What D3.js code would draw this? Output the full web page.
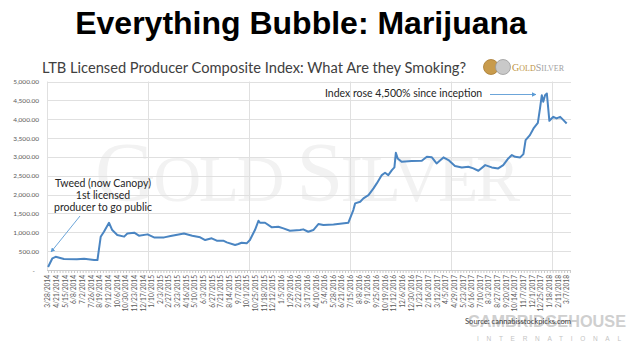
<!DOCTYPE html>
<html>
<head>
<meta charset="utf-8">
<script src="https://cdn.jsdelivr.net/npm/d3@7"></script>
<style>
  body { margin: 0; background: #fff; }
  svg { display: block; }
</style>
</head>
<body>
<div class="canvas"></div>
<script>
// index readings
const dates = [
  '3/28/2014', '4/9/2014', '4/18/2014', '5/11/2014', '6/16/2014', '7/6/2014', '8/3/2014', '8/12/2014',
  '8/21/2014', '8/30/2014', '9/13/2014', '9/22/2014', '10/6/2014', '10/25/2014', '11/3/2014', '11/22/2014',
  '12/5/2014', '12/29/2014', '1/16/2015', '2/13/2015', '3/3/2015', '4/9/2015', '5/2/2015', '5/24/2015',
  '6/7/2015', '6/25/2015', '7/9/2015', '7/27/2015', '8/6/2015', '8/29/2015', '9/7/2015', '9/16/2015',
  '9/30/2015', '10/9/2015', '10/23/2015', '11/2/2015', '11/6/2015', '11/20/2015', '12/9/2015', '12/27/2015',
  '1/10/2016', '1/28/2016', '2/25/2016', '3/5/2016', '3/19/2016', '4/2/2016', '4/16/2016', '4/30/2016',
  '5/28/2016', '6/15/2016', '7/8/2016', '7/22/2016', '7/27/2016', '8/10/2016', '8/19/2016', '9/2/2016',
  '9/16/2016', '9/25/2016', '10/9/2016', '10/18/2016', '10/27/2016', '11/6/2016', '11/13/2016', '11/17/2016',
  '11/22/2016', '12/3/2016', '12/31/2016', '1/28/2017', '2/11/2017', '2/25/2017', '3/10/2017', '3/29/2017',
  '4/12/2017', '4/30/2017', '5/19/2017', '6/6/2017', '6/20/2017', '7/4/2017', '7/23/2017', '8/10/2017',
  '8/28/2017', '9/11/2017', '9/25/2017', '10/5/2017', '10/14/2017', '10/28/2017', '11/6/2017', '11/12/2017',
  '11/24/2017', '12/4/2017', '12/16/2017', '12/22/2017', '12/27/2017', '12/31/2017', '1/5/2018', '1/10/2018',
  '1/17/2018', '1/28/2018', '2/6/2018', '2/16/2018', '2/25/2018', '3/6/2018'
];
const values = [
  80, 310, 350, 290, 283, 300, 265, 265,
  880, 1015, 1253, 1060, 930, 885, 970, 990,
  910, 945, 865, 865, 900, 970, 910, 866,
  795, 840, 777, 777, 734, 662, 690, 724,
  707, 795, 1060, 1307, 1253, 1253, 1131, 1148,
  1104, 1042, 1060, 1078, 1015, 1060, 1219, 1192,
  1210, 1228, 1253, 1590, 1767, 1810, 1900, 1988,
  2165, 2297, 2518, 2579, 2518, 2650, 2721, 3109,
  2960, 2870, 2889, 2897, 3003, 2990, 2827, 2987,
  2915, 2760, 2721, 2738, 2695, 2632, 2782, 2721,
  2695, 2782, 2960, 3048, 3003, 2987, 3074, 3445,
  3578, 3755, 3904, 4285, 4638, 4460, 4638, 4682,
  3957, 4063, 4020, 4063, 3975, 3888
];

// category labels along the bottom (every 24 days)
const tickLabels = [
  '3/28/2014', '4/21/2014', '5/15/2014', '6/8/2014', '7/2/2014', '7/26/2014', '8/19/2014', '9/12/2014',
  '10/6/2014', '10/30/2014', '11/23/2014', '12/17/2014', '1/10/2015', '2/3/2015', '2/27/2015', '3/23/2015',
  '4/16/2015', '5/10/2015', '6/3/2015', '6/27/2015', '7/21/2015', '8/14/2015', '9/7/2015', '10/1/2015',
  '10/25/2015', '11/18/2015', '12/12/2015', '1/5/2016', '1/29/2016', '2/22/2016', '3/17/2016', '4/10/2016',
  '5/4/2016', '5/28/2016', '6/21/2016', '7/15/2016', '8/8/2016', '9/1/2016', '9/25/2016', '10/19/2016',
  '11/12/2016', '12/6/2016', '12/30/2016', '1/23/2017', '2/16/2017', '3/12/2017', '4/5/2017', '4/29/2017',
  '5/23/2017', '6/16/2017', '7/10/2017', '8/3/2017', '8/27/2017', '9/20/2017', '10/14/2017', '11/7/2017',
  '12/1/2017', '12/25/2017', '1/18/2018', '2/11/2018', '3/7/2018'
];
const yTicks = [0, 500, 1000, 1500, 2000, 2500, 3000, 3500, 4000, 4500, 5000];
const axisStart = '3/25/2014';
const axisEnd = '3/18/2018';

const parse = d3.utcParse('%m/%d/%Y');
const series = dates.map((d, i) => ({ date: parse(d), value: values[i] }));

const svg = d3.select('.canvas')
  .append('svg')
  .attr('width', 634)
  .attr('height', 352);

const chartFont = 'Lato, "Open Sans", sans-serif';

const x = d3.scaleUtc()
  .domain([parse(axisStart), parse(axisEnd)])
  .range([47, 571]);

const y = d3.scaleLinear()
  .domain([0, 5000])
  .range([270, 81.5]);

// title
svg.append('text')
  .attr('x', 301)
  .attr('y', 34)
  .attr('text-anchor', 'middle')
  .attr('font-family', '"Liberation Sans", Arial, sans-serif')
  .attr('font-weight', 'bold')
  .attr('font-size', 32)
  .attr('fill', '#000')
  .text('Everything Bubble: Marijuana');

svg.append('text')
  .attr('x', 42)
  .attr('y', 73)
  .attr('font-family', chartFont)
  .attr('font-size', 15.5)
  .attr('fill', '#404040')
  .attr('textLength', 424)
  .attr('lengthAdjust', 'spacingAndGlyphs')
  .text('LTB Licensed Producer Composite Index: What Are they Smoking?');

// gold silver logo
const logo = svg.append('g');
logo.append('circle').attr('cx', 491).attr('cy', 67).attr('r', 7.5)
  .attr('fill', '#c89b4c').attr('stroke', '#a87a30').attr('stroke-width', 0.8);
logo.append('circle').attr('cx', 503).attr('cy', 67).attr('r', 7.5)
  .attr('fill', '#c9c9c9').attr('stroke', '#999').attr('stroke-width', 0.8);
const logoText = logo.append('text')
  .attr('x', 512)
  .attr('y', 71)
  .attr('font-family', '"Liberation Serif", serif')
  .attr('font-size', 8);
logoText.append('tspan').attr('fill', '#c0953f').attr('font-size', 10).text('G');
logoText.append('tspan').attr('fill', '#c0953f').text('OLD');
logoText.append('tspan').attr('fill', '#a0a0a0').attr('font-size', 10).text('S');
logoText.append('tspan').attr('fill', '#a0a0a0').text('ILVER');

// watermark
const wm = svg.append('text')
  .attr('x', 95)
  .attr('y', 201)
  .attr('font-family', '"Liberation Serif", serif')
  .attr('fill', '#f2f2f2')
  .attr('textLength', 425)
  .attr('lengthAdjust', 'spacing');
wm.append('tspan').attr('font-size', 84).text('G');
wm.append('tspan').attr('font-size', 66).text('OLD ');
wm.append('tspan').attr('font-size', 84).text('S');
wm.append('tspan').attr('font-size', 66).text('ILVER');

// horizontal gridlines
svg.append('g')
  .selectAll('line')
  .data(yTicks)
  .join('line')
  .attr('x1', 47)
  .attr('x2', 571)
  .attr('y1', d => Math.round(y(d)) + 0.5)
  .attr('y2', d => Math.round(y(d)) + 0.5)
  .attr('stroke', d => d === 0 ? '#c8c8c8' : '#e0e0e0')
  .attr('stroke-width', 1);

// vertical gridlines every 280 days
const vGrid = d3.range(0, 6).map(k => d3.utcDay.offset(parse(axisStart), k * 280));
svg.append('g')
  .selectAll('line')
  .data(vGrid)
  .join('line')
  .attr('x1', d => Math.round(x(d)) + 0.5)
  .attr('x2', d => Math.round(x(d)) + 0.5)
  .attr('y1', y(5000))
  .attr('y2', y(0))
  .attr('stroke', '#e0e0e0');

// y axis labels
svg.append('g')
  .attr('transform', 'translate(39,0)')
  .call(d3.axisLeft(y)
    .tickValues(yTicks)
    .tickSize(0)
    .tickPadding(0)
    .tickFormat(d => d === 0 ? '-' : d3.format(',.2f')(d)))
  .call(g => g.select('.domain').remove())
  .call(g => g.selectAll('text')
    .attr('font-family', chartFont)
    .attr('font-size', 6.5)
    .attr('fill', '#595959')
    .attr('dx', d => d === 0 ? -4 : 0));

// x axis with small tick marks
const minorTicks = d3.utcDay.range(parse(tickLabels[0]), parse(axisEnd), 8);
svg.append('g')
  .attr('transform', 'translate(0,270)')
  .call(d3.axisBottom(x)
    .tickValues(minorTicks)
    .tickSize(3)
    .tickFormat(''))
  .call(g => g.select('.domain').remove())
  .call(g => g.selectAll('line').attr('stroke', '#c8c8c8'));

svg.append('g')
  .selectAll('text')
  .data(tickLabels)
  .join('text')
  .attr('transform', d => `translate(${x(parse(d)) + 2.3},275) rotate(-90)`)
  .attr('text-anchor', 'end')
  .attr('font-family', chartFont)
  .attr('font-size', 6.6)
  .attr('fill', '#595959')
  .text(d => d);

// the index line
const line = d3.line()
  .x(d => x(d.date))
  .y(d => y(d.value));

svg.append('path')
  .datum(series)
  .attr('d', line)
  .attr('fill', 'none')
  .attr('stroke', '#4a85c2')
  .attr('stroke-width', 2)
  .attr('stroke-linejoin', 'round');

// annotations
const defs = svg.append('defs');
defs.append('marker')
  .attr('id', 'arrow')
  .attr('viewBox', '0 0 10 10')
  .attr('refX', 9)
  .attr('refY', 5)
  .attr('markerWidth', 5)
  .attr('markerHeight', 5)
  .attr('orient', 'auto')
  .append('path')
  .attr('d', 'M0,0 L10,5 L0,10 z')
  .attr('fill', '#5b9bd5');

svg.append('text')
  .attr('x', 325)
  .attr('y', 97)
  .attr('font-family', chartFont)
  .attr('font-size', 10.5)
  .attr('fill', '#262626')
  .text('Index rose 4,500% since inception');

svg.append('line')
  .attr('x1', 490).attr('y1', 94.5)
  .attr('x2', 536).attr('y2', 94.5)
  .attr('stroke', '#5b9bd5')
  .attr('stroke-width', 0.9)
  .attr('marker-end', 'url(#arrow)');

const tweed = ['Tweed (now Canopy)', '1st licensed', 'producer to go public'];
svg.append('g')
  .selectAll('text')
  .data(tweed)
  .join('text')
  .attr('x', 103)
  .attr('y', (d, i) => 187 + i * 12)
  .attr('text-anchor', 'middle')
  .attr('font-family', chartFont)
  .attr('font-size', 10.5)
  .attr('fill', '#262626')
  .text(d => d);

svg.append('line')
  .attr('x1', 80).attr('y1', 216)
  .attr('x2', 51).attr('y2', 252)
  .attr('stroke', '#5b9bd5')
  .attr('stroke-width', 0.9)
  .attr('marker-end', 'url(#arrow)');

// footer
svg.append('text')
  .attr('x', 468)
  .attr('y', 327)
  .attr('font-family', '"Liberation Sans", Arial, sans-serif')
  .attr('font-weight', 'bold')
  .attr('font-size', 17)
  .attr('fill', '#cfcfcf')
  .attr('textLength', 158)
  .attr('lengthAdjust', 'spacingAndGlyphs')
  .text('CAMBRIDGEHOUSE');

svg.append('text')
  .attr('x', 477)
  .attr('y', 341)
  .attr('font-family', '"Liberation Sans", Arial, sans-serif')
  .attr('font-size', 6.5)
  .attr('fill', '#c4c4c4')
  .attr('textLength', 144)
  .attr('lengthAdjust', 'spacing')
  .text('INTERNATIONAL');

svg.append('text')
  .attr('x', 465)
  .attr('y', 324)
  .attr('font-family', chartFont)
  .attr('font-size', 8)
  .attr('fill', '#404040')
  .attr('textLength', 106)
  .attr('lengthAdjust', 'spacingAndGlyphs')
  .text('Source: cannabisstockpicks.com');
</script>
</body>
</html>
